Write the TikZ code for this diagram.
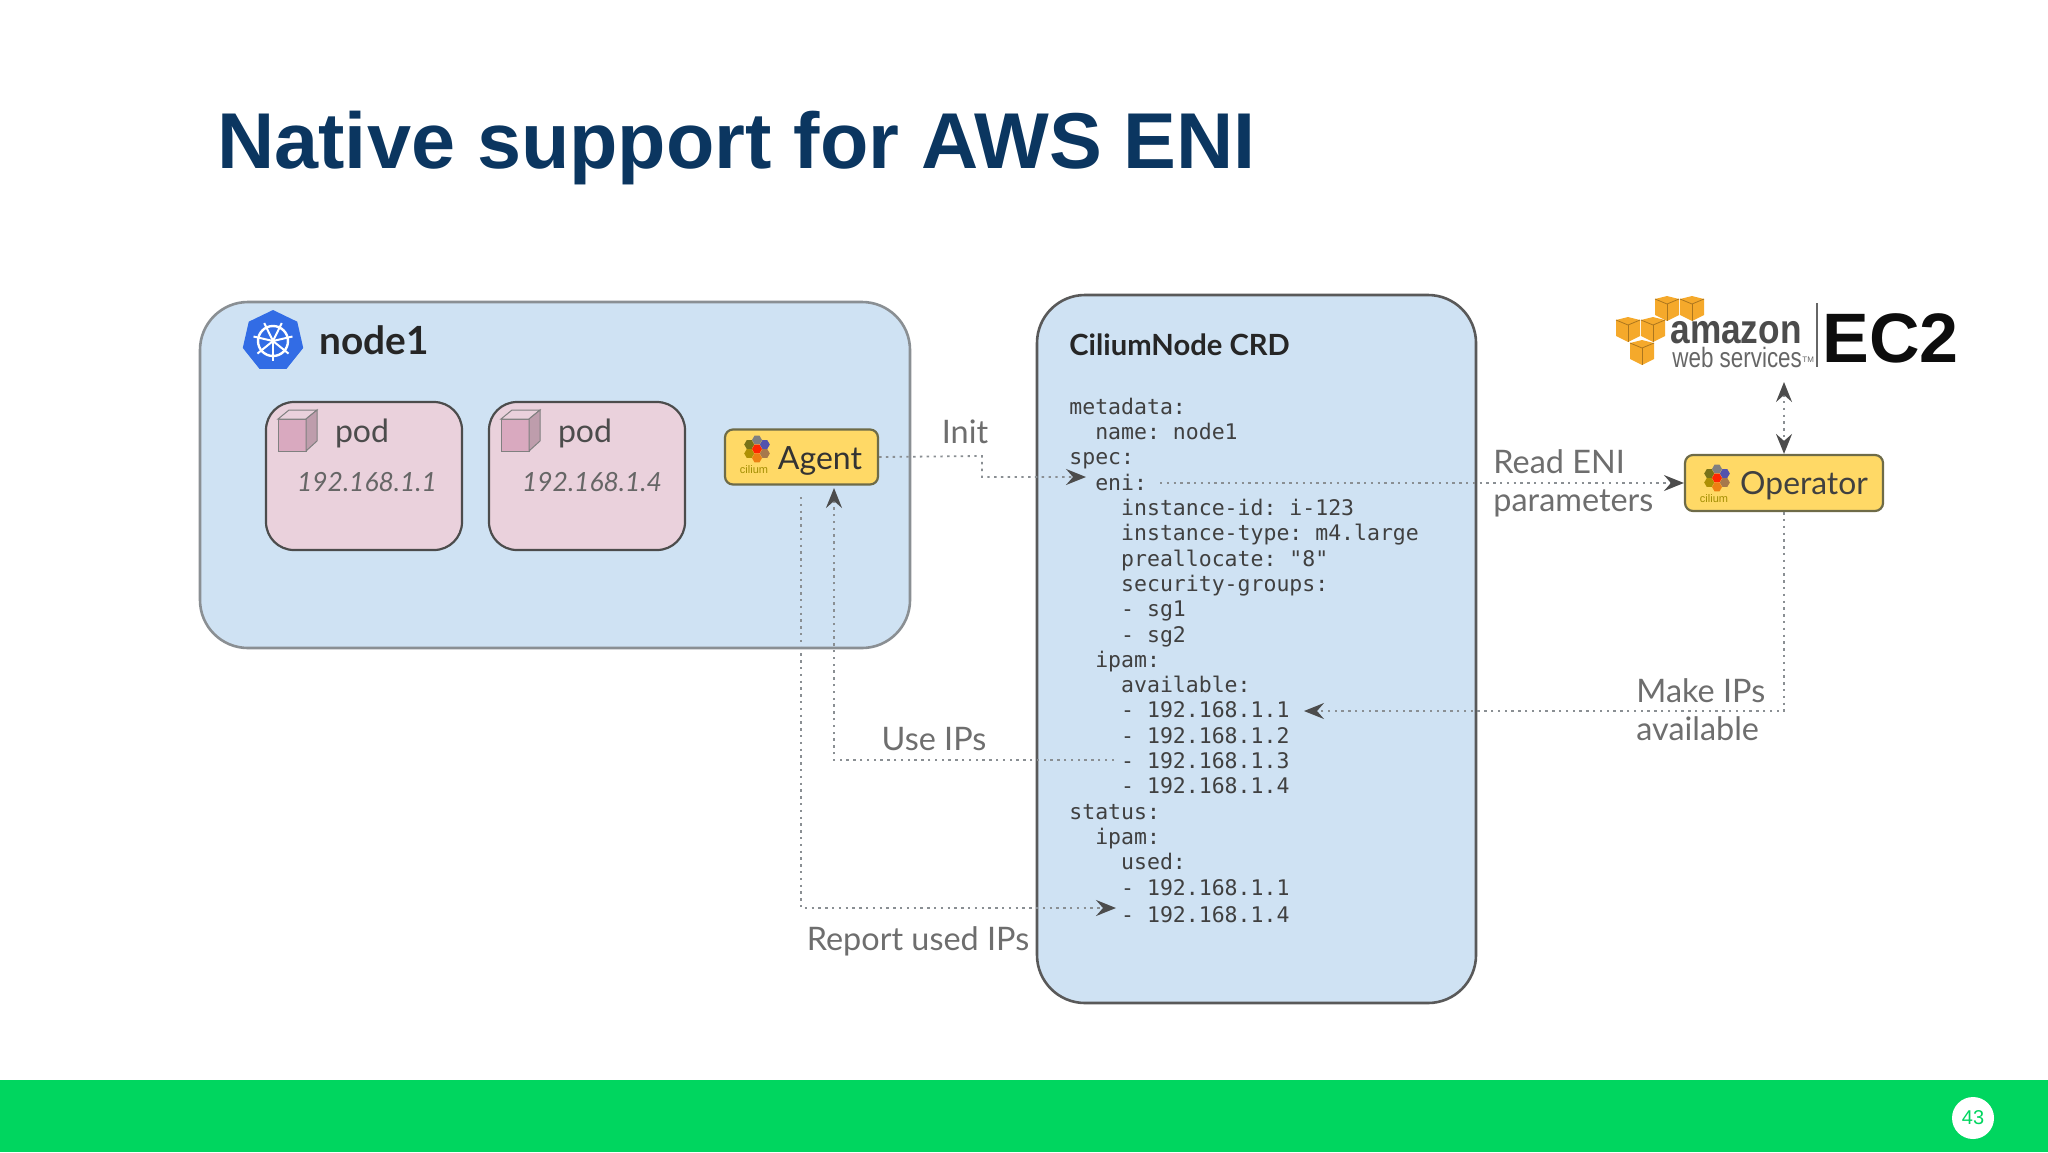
\documentclass[tikz,border=0pt]{standalone}
\usepackage{fontspec}
\usepackage{graphicx}
\usepackage{xcolor}
\usepackage{tikz}
\usetikzlibrary{arrows.meta}
\usetikzlibrary{shapes.geometric}
\setmainfont{Liberation Sans}
\setmonofont{DejaVu Sans Mono}
\newfontfamily\labelfont{Lato}
\definecolor{titleblue}{HTML}{0B3660}
\definecolor{slidegreen}{HTML}{00D65F}
\definecolor{boxblue}{HTML}{CFE2F3}
\definecolor{boxpink}{HTML}{EAD1DC}
\definecolor{cubepink}{HTML}{D9A9BF}
\definecolor{boxyellow}{HTML}{FFD966}
\definecolor{linegray}{HTML}{8A8F93}
\definecolor{labelgray}{HTML}{6E6E6E}
\definecolor{awsorange}{HTML}{F5A92B}
\definecolor{k8sblue}{HTML}{326CE5}
\newcommand{\tabA}{\phantom{xx}}
\newcommand{\tabB}{\phantom{xxxx}}
\tikzset{
	panel/.style={draw=#1,line width=1.3pt,fill=boxblue,rounded corners=24pt,inner sep=0pt},
	podbox/.style={draw=black!70,line width=1.1pt,fill=boxpink,rounded corners=14pt,minimum width=98pt,minimum height=74pt,inner sep=0pt},
	ciliumbox/.style={draw=black!65!yellow,line width=1.1pt,fill=boxyellow,rounded corners=4pt,inner sep=0pt},
	label/.style={font=\labelfont\fontsize{16.2}{18}\selectfont,text=labelgray,inner sep=0pt},
	flow/.style={draw=linegray,line width=0.9pt,dash pattern=on 1.2pt off 2.2pt},
	tip/.style={-{Stealth[inset=3.5pt,length=10pt,width=8pt,black!70]}},
	tips/.style={{Stealth[inset=3.5pt,length=10pt,width=8pt,black!70]}-{Stealth[inset=3.5pt,length=10pt,width=8pt,black!70]}},
	podcube/.pic={
		\fill[cubepink,draw=black!50,line width=0.5pt] (-20,-12)--(8,-12)--(8,20)--(-20,20)--cycle;
		\fill[boxpink,draw=black!50,line width=0.5pt] (-20,-12)--(-9,-21)--(19,-21)--(8,-12)--cycle;
		\fill[cubepink!70!gray,draw=black!50,line width=0.5pt] (8,-12)--(19,-21)--(19,10)--(8,20)--cycle;
	},
	hexcell/.pic={
		\fill[pic actions] (0:5)--(60:5)--(120:5)--(180:5)--(240:5)--(300:5)--cycle;
	},
	ciliumlogo/.pic={
		\path (90:9) pic[fill=orange!70!brown] {hexcell};
		\path (30:9) pic[fill=orange!50!black!70] {hexcell};
		\path (-30:9) pic[fill=blue!35!gray] {hexcell};
		\path (-90:9) pic[fill=gray] {hexcell};
		\path (-150:9) pic[fill=olive!80!black] {hexcell};
		\path (150:9) pic[fill=olive!70!orange] {hexcell};
		\path (0,0) pic[fill=red!70!orange] {hexcell};
		\node[font=\fontsize{5.5}{6}\selectfont,text=olive!80!orange,inner sep=0pt] (-tag) at (-3,21) {cilium};
	},
	awscube/.pic={
		\fill[awsorange] (-12,-9)--(0,-12)--(12,-9)--(12,7)--(0,13)--(-12,7)--cycle;
		\draw[awsorange!70!black,line width=0.4pt] (-12,-9)--(0,-4)--(12,-9);
		\draw[awsorange!70!black,line width=0.4pt] (0,-4)--(0,13);
	},
}
\begin{document}
\begin{tikzpicture}[x=0.5pt,y=-0.5pt]
	\useasboundingbox (0,0) rectangle (2048,1152);
	\fill[slidegreen] (0,1080) rectangle (2048,1152);
	\node[circle,fill=white,minimum size=21pt,inner sep=0pt,font=\fontsize{10}{12}\selectfont,text=slidegreen] (pagenum) at (1973,1118) {43};
	\node[anchor=base west,inner sep=0pt,font=\fontsize{39.6}{48}\selectfont\bfseries,text=titleblue] (title) at (217,168.5) {Native support for AWS ENI};

	% boxes
	\node[panel=linegray,minimum width=355pt,minimum height=173pt] (node1) at (555,475) {};
	\node[panel=black!65,minimum width=219.5pt,minimum height=354pt] (crd) at (1256.5,649) {};

	% kubernetes wheel
	\node[regular polygon,regular polygon sides=7,fill=k8sblue,minimum size=31pt,inner sep=0pt] (k8s) at (273,341) {};
	\draw[white,line width=1.2pt] (k8s.center) circle (15);
	\foreach \a in {90,141,193,244,296,347,399} {
		\draw[white,line width=1pt] (k8s.center) -- ++(\a:20);
	}
	\node[anchor=west,inner sep=0pt,font=\fontsize{19.4}{22}\selectfont\bfseries\labelfont,text=black!85] (node1name) at (319,340) {node1};

	% pods
	\node[podbox] (pod1) at (364,476) {};
	\path (298,431) pic {podcube};
	\node[font=\labelfont\fontsize{16}{18}\selectfont,text=black!70,inner sep=0pt] (pod1name) at (362,433) {pod};
	\node[font=\labelfont\itshape\fontsize{13.2}{16}\selectfont,text=black!60,inner sep=0pt] (pod1ip) at (367,482) {192.168.1.1};
	\begin{scope}[xshift=111.5pt]
		\node[podbox] (pod2) at (364,476) {};
		\path (298,431) pic {podcube};
		\node[font=\labelfont\fontsize{16}{18}\selectfont,text=black!70,inner sep=0pt] (pod2name) at (362,433) {pod};
		\node[font=\labelfont\itshape\fontsize{13.2}{16}\selectfont,text=black!60,inner sep=0pt] (pod2ip) at (369,482) {192.168.1.4};
	\end{scope}

	% cilium boxes
	\node[ciliumbox,minimum width=76.5pt,minimum height=27.5pt] (agent) at (801.5,457) {};
	\path (757,449) pic (agentlogo) {ciliumlogo};
	\node[font=\labelfont\fontsize{16}{18}\selectfont,text=black!80,inner sep=0pt] (agentname) at (820,461) {Agent};
	\node[ciliumbox,minimum width=99pt,minimum height=28pt] (operator) at (1784,483) {};
	\path (1717,478) pic (operatorlogo) {ciliumlogo};
	\node[font=\labelfont\fontsize{15.9}{18}\selectfont,text=black!75,inner sep=0pt] (operatorname) at (1804,486) {Operator};

	% crd text
	\node[anchor=west,inner sep=0pt,font=\labelfont\bfseries\fontsize{14.6}{16}\selectfont,text=black!85] (crdname) at (1069,345) {CiliumNode CRD};
	\node[anchor=west,align=left,inner sep=0pt,font=\ttfamily\fontsize{10.75}{12.65}\selectfont,text=black!75] (crdspec) at (1069,660.3) {metadata:\\
		\tabA name: node1\\
		spec:\\
		\tabA eni:\\
		\tabB instance-id: i-123\\
		\tabB instance-type: m4.large\\
		\tabB preallocate: "8"\\
		\tabB security-groups:\\
		\tabB - sg1\\
		\tabB - sg2\\
		\tabA ipam:\\
		\tabB available:\\
		\tabB - 192.168.1.1\\
		\tabB - 192.168.1.2\\
		\tabB - 192.168.1.3\\
		\tabB - 192.168.1.4\\
		status:\\
		\tabA ipam:\\
		\tabB used:\\
		\tabB - 192.168.1.1\\[1pt]
		\tabB - 192.168.1.4};

	% aws logo
	\path (1667,308) pic {awscube};
	\path (1692,308) pic {awscube};
	\path (1628,329) pic {awscube};
	\path (1653,329) pic {awscube};
	\path (1642,352) pic {awscube};
	\node[anchor=base west,inner sep=0pt,font=\fontsize{20.5}{22}\selectfont\bfseries,text=black!70] (amazon) at (1670,343) {\scalebox{0.86}[1]{amazon}};
	\node[anchor=base west,inner sep=0pt,font=\fontsize{14}{14}\selectfont,text=black!60] (webservices) at (1672,367) {\scalebox{0.8}[1]{web services}};
	\node[anchor=base west,inner sep=0pt,font=\fontsize{4}{5}\selectfont,text=black!60] (awstm) at (1802,362) {TM};
	\coordinate (awstop) at (1817,303);
	\coordinate (awsbot) at (1817,367);
	\draw[black!60,line width=0.7pt] (awstop)--(awsbot);
	\node[anchor=base west,inner sep=0pt,font=\fontsize{35}{36}\selectfont\bfseries,text=black!95] (ec2) at (1822,362) {EC2};

	% flows
	\coordinate (initend) at (1086,477);
	\coordinate (enistart) at (1160,483);
	\coordinate (ipsend) at (1304,711);
	\coordinate (usestart) at (1114,760);
	\coordinate (useend) at (834,488);
	\coordinate (reportstart) at (801,497);
	\coordinate (reportend) at (1116,908);
	\coordinate (ec2end) at (1784,382);
	\draw[flow,tip] (agent.east) -- (982,456) -- (982,477) -- (initend);
	\draw[flow,tip] (enistart) -- (operator.west);
	\draw[flow,tip] (operator.south) -- (1784,711) -- (ipsend);
	\draw[flow,tip] (usestart) -- (834,760) -- (useend);
	\draw[flow,tip] (reportstart) -- (801,908) -- (reportend);
	\draw[flow,tips] (ec2end) -- (operator.north);

	% labels
	\node[label] (initlabel) at (965,432) {Init};
	\node[label,anchor=west] (readlabel) at (1493,462) {Read ENI};
	\node[label,anchor=west] (paramlabel) at (1493,503) {parameters};
	\node[label] (uselabel) at (934,739) {Use IPs};
	\node[label] (reportlabel) at (918,941) {Report used IPs};
	\node[label,anchor=west] (makelabel) at (1636,691) {Make IPs};
	\node[label,anchor=west] (availlabel) at (1636,729) {available};
\end{tikzpicture}
\end{document}
